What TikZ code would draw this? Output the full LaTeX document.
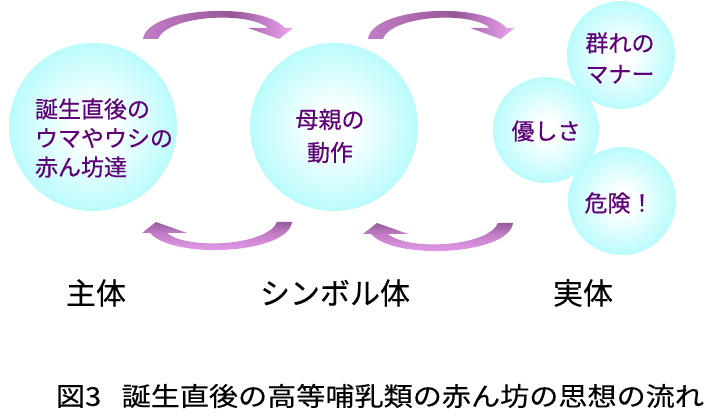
\documentclass[tikz,border=0pt]{standalone}
\usepackage{fontspec}
\setmainfont{Noto Sans CJK JP}
\newfontfamily\jpbold[FakeBold=0.4]{Noto Sans CJK JP}
\newfontfamily\jpsemi[FakeBold=0.2]{Noto Sans CJK JP}
\definecolor{txtpurple}{RGB}{96,0,120}
\definecolor{bubcyan}{RGB}{166,250,250}
\definecolor{arrA}{RGB}{194,125,198}
\definecolor{arrB}{RGB}{238,164,244}
\definecolor{arrC}{RGB}{150,88,150}
\definecolor{arrD}{RGB}{120,70,125}
\pgfdeclareradialshading{bubble}{\pgfpoint{0bp}{0bp}}{color(0bp)=(white); color(5bp)=(white); color(31bp)=(bubcyan); color(50bp)=(bubcyan)}
\pgfdeclarehorizontalshading{arrtop}{100bp}{color(0bp)=(arrA); color(25bp)=(arrA); color(55bp)=(arrC); color(75bp)=(arrB); color(100bp)=(arrB)}
\pgfdeclareverticalshading{arrbot}{100bp}{color(0bp)=(arrB); color(30bp)=(arrB); color(60bp)=(arrA); color(85bp)=(arrD); color(100bp)=(arrD)}
\newcommand\arrowshape{(0,0) .. controls (4,-32) and (118,-38) .. (142,-11) -- (150,-11) -- (136,0) -- (105,-11) -- (125,-11) .. controls (105,-28) and (25,-24) .. (15,0) -- cycle}
\tikzset{
  bub/.style={circle, shading=bubble, minimum size=#1, inner sep=0pt},
  bubtext/.style={text=txtpurple, font=\jpbold\fontsize{23}{29}\selectfont, inner sep=0pt},
  lab/.style={text=black, font=\jpsemi\fontsize{30}{34}\selectfont, inner sep=0pt},
}
\begin{document}
\begin{tikzpicture}[x=1pt,y=-1pt]
\useasboundingbox[fill=white] (0,0) rectangle (713,419);
% circles
\node[bub=168pt] (c1) at (93,127) {};
\node[bub=168pt] (c2) at (334,127) {};
\node[bub=108pt] (c3) at (621,55) {};
\node[bub=108pt] (c5) at (622,201) {};
\node[bub=106pt] (c4) at (546,130) {};
% circle texts
\node[bubtext, align=left] (t1) at (104,138) {誕生直後の\\ウマやウシの\\赤ん坊達};
\node[bubtext, align=center, font=\jpbold\fontsize{23}{33}\selectfont] (t2) at (330,136) {母親の\\動作};
\node[bubtext, align=center, font=\jpbold\fontsize{23}{31}\selectfont] (t3) at (620,58) {群れの\\マナー};
\node[bubtext] (t4) at (546,131) {優しさ};
\node[bubtext] (t5) at (619,203) {危険！};
% arrows
\begin{scope}[shift={(143,39)}]
  \shade[shading=arrtop] \arrowshape;
\end{scope}
\begin{scope}[shift={(368,39)}, xscale=0.975]
  \shade[shading=arrtop] \arrowshape;
\end{scope}
\begin{scope}[shift={(292,222)}, rotate=180]
  \shade[shading=arrbot] \arrowshape;
\end{scope}
\begin{scope}[shift={(513,223)}, rotate=180]
  \shade[shading=arrbot] \arrowshape;
\end{scope}
% labels
\node[lab] (l1) at (96,293) {主体};
\node[lab] (l2) at (335,293) {シンボル体};
\node[lab] (l3) at (583,293) {実体};
% caption
\node[inner sep=0pt] (cap) at (380,396) {\scalebox{1.12}[1]{\jpsemi\fontsize{26}{30}\selectfont 図3\hspace{0.7em}誕生直後の高等哺乳類の赤ん坊の思想の流れ}};
\end{tikzpicture}
\end{document}
